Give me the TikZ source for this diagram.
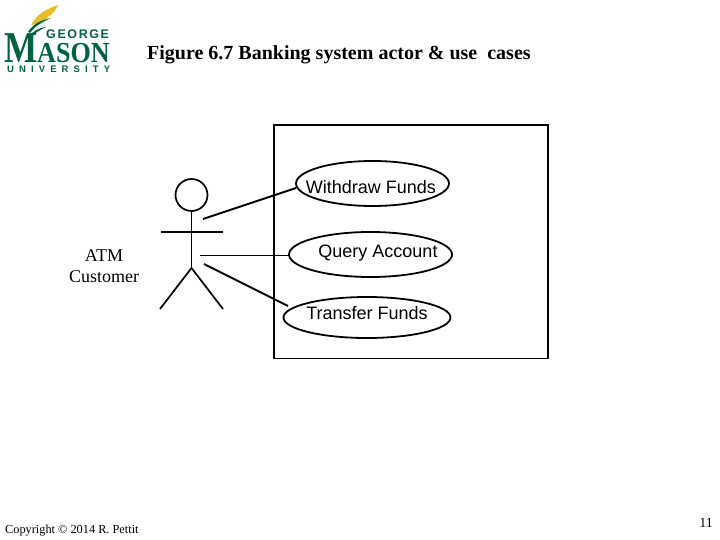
\documentclass[tikz,border=0pt]{standalone}
\usepackage{fontspec}
\setmainfont{Liberation Serif}
\newfontfamily\arialf{Liberation Sans}
\usetikzlibrary{shapes.geometric}
\definecolor{gmugreen}{RGB}{0,98,65}
\definecolor{gmugold}{RGB}{232,190,40}
\tikzset{
  usecase/.style={draw,ellipse,line width=1.8pt,inner sep=0pt,outer sep=0pt},
  caselabel/.style={font=\arialf\fontsize{18}{20}\selectfont,inner sep=0pt},
  limb/.style={line width=1.7pt},
  assoc/.style={line width=2pt},
  assocthin/.style={line width=0.8pt}
}
\begin{document}
\begin{tikzpicture}[x=1pt,y=-1pt]
\useasboundingbox (0,0) rectangle (720,540);
% logo
\fill[gmugold] (31,25) .. controls (36,15) and (46,9) .. (58,5) .. controls (55,13) and (47,20) .. (33,25) -- cycle;
\fill[gmugreen] (28,32) .. controls (33,24) and (41,20) .. (51,18) .. controls (43,22) and (36,25) .. (30,33) -- cycle;
\fill[gmugreen] (28,37) .. controls (32,32) and (38,28) .. (46,27) .. controls (40,30) and (34,33) .. (31,38) -- cycle;
\node[anchor=base west,inner sep=0pt,text=gmugreen,font=\arialf\bfseries\fontsize{12.5}{14}\selectfont] (george) at (46,39) {G\hspace{1.6pt}E\hspace{1.6pt}O\hspace{1.6pt}R\hspace{1.6pt}G\hspace{1.6pt}E};
\node[anchor=base west,inner sep=0pt,text=gmugreen,font=\bfseries\fontsize{44}{46}\selectfont] (bigm) at (4,62.5) {\scalebox{.8}[1]{M}};
\node[anchor=base west,inner sep=0pt,text=gmugreen,font=\bfseries\fontsize{29}{31}\selectfont] (ason) at (37,62.5) {\scalebox{.9}[1]{ASON}};
\node[anchor=base west,inner sep=0pt,text=gmugreen,font=\arialf\bfseries\fontsize{9.5}{11}\selectfont] (univ) at (7,72.5) {U\hspace{5.1pt}N\hspace{5.1pt}I\hspace{5.1pt}V\hspace{5.1pt}E\hspace{5.1pt}R\hspace{5.1pt}S\hspace{5.1pt}I\hspace{5.1pt}T\hspace{5.1pt}Y};
% title
\node[anchor=base west,inner sep=0pt,font=\bfseries\fontsize{20}{22}\selectfont] (title) at (147,60) {Figure 6.7 Banking system actor \& use\ \ cases};
% system box
\node[draw,line width=1.8pt,minimum width=274pt,minimum height=233.5pt,inner sep=0pt,outer sep=0pt,anchor=north west] (sys) at (274,125) {};
% use cases
\node[usecase,minimum width=153pt,minimum height=45pt] (uc1) at (372.5,183.5) {};
\node[usecase,minimum width=163pt,minimum height=45pt] (uc2) at (370.5,254.5) {};
\node[usecase,minimum width=167pt,minimum height=41pt] (uc3) at (367,317.5) {};
\node[caselabel] (t1) at (371,187) {Withdraw Funds};
\node[caselabel] (t2) at (378,253.5) {Query Account};
\node[caselabel] (t3) at (367,313) {Transfer Funds};
% actor
\node[draw,circle,line width=1.7pt,minimum size=32pt,inner sep=0pt] (head) at (191.5,195) {};
\coordinate (hip) at (191.5,268);
\coordinate (armL) at (161,232);
\coordinate (armR) at (223,232);
\coordinate (footL) at (160,309);
\coordinate (footR) at (223,309);
\draw[limb] (head.south) -- (hip);
\draw[limb] (armL) -- (armR);
\draw[limb] (footL) -- (hip) -- (footR);
% associations
\coordinate (a1) at (203,219);
\coordinate (b1) at (296,188);
\coordinate (a2) at (200,255.5);
\coordinate (a3) at (204,264);
\coordinate (b3) at (288,306);
\draw[assoc] (a1) -- (b1);
\draw[assocthin] (a2) -- (uc2.west|-a2);
\draw[assoc] (a3) -- (b3);
% actor label
\node[align=center,inner sep=0pt,font=\fontsize{18}{21}\selectfont] (actor) at (104,266) {ATM\\Customer};
% footer
\node[anchor=base west,inner sep=0pt,font=\fontsize{12.3}{15}\selectfont] (copy) at (5,533) {Copyright © 2014 R. Pettit};
\node[anchor=base east,inner sep=0pt,font=\fontsize{14}{16}\selectfont] (pg) at (713,527) {11};
\end{tikzpicture}
\end{document}
